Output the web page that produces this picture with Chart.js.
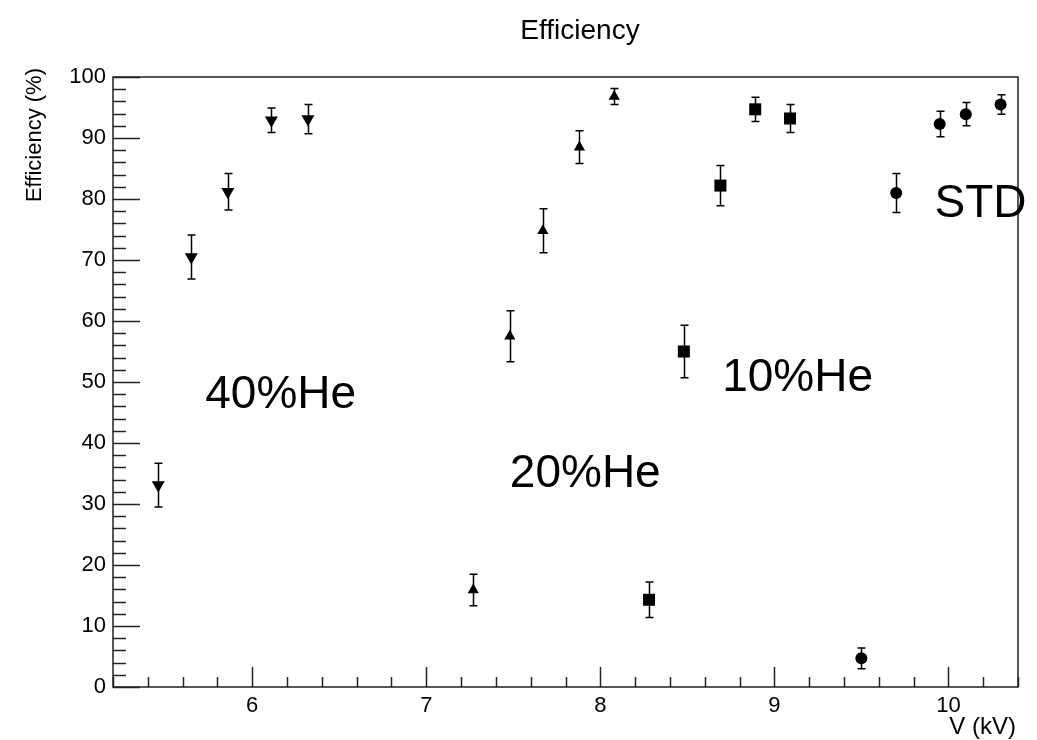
<!DOCTYPE html>
<html>
<head>
<meta charset="utf-8">
<title>Efficiency</title>
<script src="https://cdn.jsdelivr.net/npm/chart.js@4.4.1/dist/chart.umd.min.js"></script>
<style>
  body { margin: 0; background: #fff; }
  #wrap { width: 1037px; height: 740px; }
</style>
</head>
<body>
<div id="wrap"><canvas id="chart-eff" width="1037" height="740"></canvas></div>
<script>
// 40% He (down triangles)
var he40_v = [5.46, 5.65, 5.86, 6.11, 6.32];
var he40_eff = [33.1, 70.5, 81.2, 92.9, 93.1];
var he40_err = [3.6, 3.6, 3.0, 2.0, 2.4];
// 20% He (up triangles)
var he20_v = [7.27, 7.48, 7.67, 7.88, 8.08];
var he20_eff = [15.9, 57.5, 74.8, 88.5, 96.8];
var he20_err = [2.6, 4.2, 3.6, 2.7, 1.3];
// 10% He (squares)
var he10_v = [8.28, 8.48, 8.69, 8.89, 9.09];
var he10_eff = [14.3, 55.0, 82.2, 94.7, 93.2];
var he10_err = [2.9, 4.3, 3.3, 2.0, 2.3];
// STD (circles)
var std_v = [9.5, 9.7, 9.95, 10.1, 10.3];
var std_eff = [4.7, 81.0, 92.3, 93.9, 95.5];
var std_err = [1.7, 3.2, 2.1, 1.9, 1.6];

var x_ticks = [6, 7, 8, 9, 10];
var y_ticks = [0, 10, 20, 30, 40, 50, 60, 70, 80, 90, 100];

// text labels inside the frame, in data units (left edge, baseline)
var label_text = ["40%He", "10%He", "20%He", "STD"];
var label_v = [5.73, 8.70, 7.48, 9.92];
var label_eff = [45.7, 48.5, 32.8, 77.0];

var FONT = "'Liberation Sans', Arial, Helvetica, sans-serif";

function toPoints(xs, ys) {
    var pts = [];
    for (let i = 0; i < xs.length; i++) {
        pts.push({ x: xs[i], y: ys[i] });
    }
    return pts;
}

var errs = [he40_err, he20_err, he10_err, std_err];

var errorBars = {
    id: "errorBars",
    beforeDatasetsDraw: function(chart) {
        const ctx = chart.ctx;
        const xs = chart.scales.x;
        const ys = chart.scales.y;
        ctx.save();
        ctx.strokeStyle = "#000";
        ctx.lineWidth = 1.5;
        chart.data.datasets.forEach(function(ds, di) {
            ds.data.forEach(function(p, i) {
                const px = Math.round(xs.getPixelForValue(p.x)) + 0.5;
                const top = ys.getPixelForValue(p.y + errs[di][i]);
                const bot = ys.getPixelForValue(p.y - errs[di][i]);
                ctx.beginPath();
                ctx.moveTo(px, top);
                ctx.lineTo(px, bot);
                ctx.moveTo(px - 4, top);
                ctx.lineTo(px + 4, top);
                ctx.moveTo(px - 4, bot);
                ctx.lineTo(px + 4, bot);
                ctx.stroke();
            });
        });
        ctx.restore();
    }
};

var rootFrame = {
    id: "rootFrame",
    afterDraw: function(chart) {
        const ctx = chart.ctx;
        const a = chart.chartArea;
        const xs = chart.scales.x;
        const ys = chart.scales.y;
        ctx.save();
        ctx.strokeStyle = "#222";
        ctx.lineWidth = 1.5;
        ctx.strokeRect(a.left, a.top, a.right - a.left, a.bottom - a.top);

        // x ticks, pointing inward
        ctx.beginPath();
        for (let v = 5.2; v <= 10.4001; v += 0.2) {
            const major = Math.abs(v - Math.round(v)) < 1e-6;
            const px = Math.round(xs.getPixelForValue(v)) + 0.5;
            ctx.moveTo(px, a.bottom);
            ctx.lineTo(px, a.bottom - (major ? 20 : 10));
        }
        // y ticks, pointing inward
        for (let v = 0; v <= 100; v += 2) {
            const major = v % 10 === 0;
            const py = Math.round(ys.getPixelForValue(v)) + 0.5;
            ctx.moveTo(a.left, py);
            ctx.lineTo(a.left + (major ? 27 : 13), py);
        }
        ctx.stroke();

        // title
        ctx.fillStyle = "#000";
        ctx.font = "28px " + FONT;
        ctx.textAlign = "center";
        ctx.textBaseline = "alphabetic";
        ctx.fillText("Efficiency", 580, 39);

        // axis titles
        ctx.font = "24px " + FONT;
        ctx.textAlign = "right";
        ctx.fillText("V (kV)", a.right - 2, 734);
        ctx.save();
        ctx.translate(41, a.top - 9);
        ctx.rotate(-Math.PI / 2);
        ctx.font = "22px " + FONT;
        ctx.textAlign = "right";
        ctx.fillText("Efficiency (%)", 0, 0);
        ctx.restore();

        // group labels
        ctx.font = "46px " + FONT;
        ctx.textAlign = "left";
        for (let i = 0; i < label_text.length; i++) {
            ctx.fillText(label_text[i], xs.getPixelForValue(label_v[i]), ys.getPixelForValue(label_eff[i]));
        }
        ctx.restore();
    }
};

var ctx = document.getElementById("chart-eff").getContext("2d");
var myChart = new Chart(ctx, {
    type: "scatter",
    data: {
        datasets: [{
                label: "40%He",
                data: toPoints(he40_v, he40_eff),
                pointStyle: "triangle",
                rotation: 180,
                pointRadius: 7.5,
                backgroundColor: "#000",
                borderColor: "#000",
                borderWidth: 0,
            },
            {
                label: "20%He",
                data: toPoints(he20_v, he20_eff),
                pointStyle: "triangle",
                pointRadius: 6.5,
                backgroundColor: "#000",
                borderColor: "#000",
                borderWidth: 0,
            },
            {
                label: "10%He",
                data: toPoints(he10_v, he10_eff),
                pointStyle: "rect",
                pointRadius: 8.5,
                backgroundColor: "#000",
                borderColor: "#000",
                borderWidth: 0,
            },
            {
                label: "STD",
                data: toPoints(std_v, std_eff),
                pointStyle: "circle",
                pointRadius: 6,
                backgroundColor: "#000",
                borderColor: "#000",
                borderWidth: 0,
            },
        ],
    },
    options: {
        responsive: false,
        animation: false,
        events: [],
        layout: {
            padding: { left: 0, right: 19, top: 77, bottom: 0 },
        },
        plugins: {
            legend: { display: false },
            tooltip: { enabled: false },
            title: { display: false },
        },
        scales: {
            x: {
                type: "linear",
                min: 5.2,
                max: 10.4,
                afterBuildTicks: function(scale) {
                    scale.ticks = x_ticks.map(function(v) { return { value: v }; });
                },
                afterFit: function(scale) {
                    scale.height = 53;
                },
                grid: { display: false, drawTicks: false },
                border: { display: false },
                ticks: {
                    color: "#000",
                    padding: 6,
                    maxRotation: 0,
                    font: { family: FONT, size: 22 },
                },
            },
            y: {
                type: "linear",
                min: 0,
                max: 100,
                afterBuildTicks: function(scale) {
                    scale.ticks = y_ticks.map(function(v) { return { value: v }; });
                },
                afterFit: function(scale) {
                    scale.width = 113;
                },
                grid: { display: false, drawTicks: false },
                border: { display: false },
                ticks: {
                    color: "#000",
                    padding: 7,
                    font: { family: FONT, size: 22 },
                },
            },
        },
    },
    plugins: [errorBars, rootFrame],
});
</script>
</body>
</html>
